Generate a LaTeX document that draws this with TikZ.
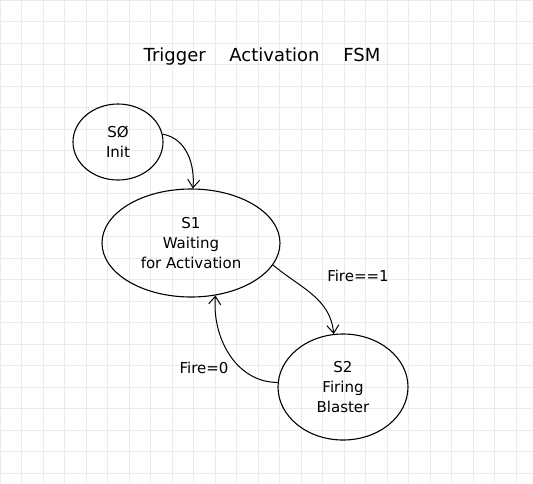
\documentclass[tikz,border=0pt]{standalone}
\usepackage{fontspec}
\setmainfont{DejaVu Sans}
\usetikzlibrary{arrows.meta,shapes.geometric}
\begin{document}
\begin{tikzpicture}[x=1pt,y=-1pt,
  state/.style={draw, ellipse, line width=1.1pt, align=center, font=\fontsize{15}{20}\selectfont, inner sep=0pt},
  edge/.style={line width=1pt, -{Straight Barb[length=8pt,width=12pt]}},
  lbl/.style={font=\fontsize{15}{18}\selectfont}]
\useasboundingbox (0,0) rectangle (533,483);
\fill[white] (0,0) rectangle (533,483);
\draw[black!8, line width=0.5pt, step=21.5pt] (0,0) grid (533,483);
\node[font=\fontsize{18}{22}\selectfont] (title) at (262,57) {Trigger\quad\ Activation\quad\ FSM};
\node[state, minimum width=90pt, minimum height=76pt] (s0) at (118,142) {SØ\\Init};
\node[state, minimum width=178pt, minimum height=108pt] (s1) at (191,243) {S1\\Waiting\\for Activation};
\node[state, minimum width=130pt, minimum height=106pt] (s2) at (343,387) {S2\\Firing\\Blaster};
\draw[edge] (s0.10) to[out=-10,in=85] (s1.88);
\draw[edge] (s1.-15) to[out=-40,in=95] (s2.100);
\draw[edge] (s2.176) to[out=180,in=-95] (s1.-65);
\node[lbl] (l1) at (358,276) {Fire==1};
\node[lbl] (l2) at (204,368) {Fire=0};
\end{tikzpicture}
\end{document}
